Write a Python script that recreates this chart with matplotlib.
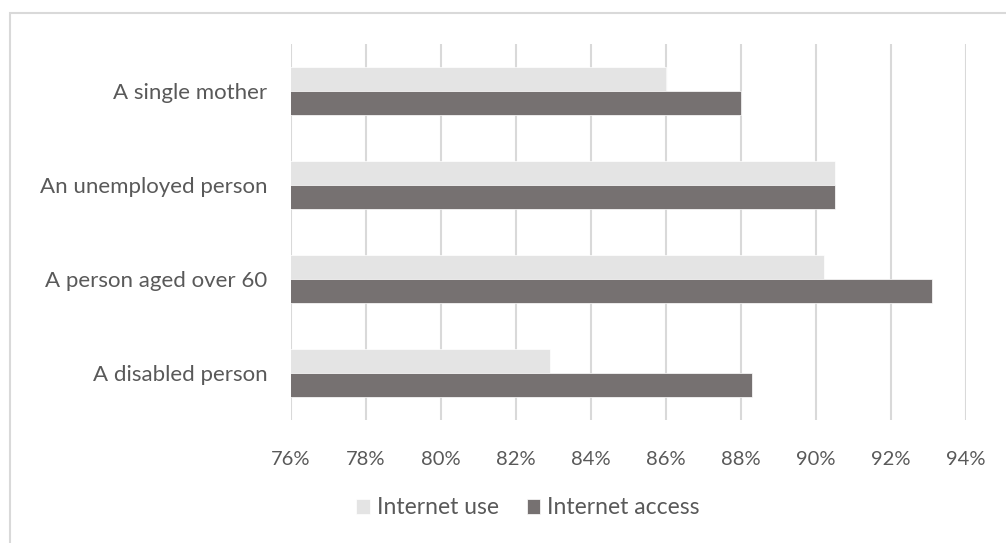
from matplotlib import pyplot as plt
from matplotlib.patches import Rectangle
from matplotlib.ticker import FuncFormatter
import numpy as np

CATEGORIES = ['A disabled person', 'A person aged over 60', 'An unemployed person', 'A single mother']
INTERNET_USE = [82.9, 90.2, 90.5, 86.0]
INTERNET_ACCESS = [88.3, 93.1, 90.5, 88.0]
X_TICKS = [76, 78, 80, 82, 84, 86, 88, 90, 92, 94]

USE_COLOR = '#E4E4E4'
ACCESS_COLOR = '#767171'
GRID_COLOR = '#D9D9D9'
TEXT_COLOR = '#595959'
BAR_H = 0.26

plt.rcParams['font.family'] = ['Lato', 'DejaVu Sans']

fig = plt.figure(figsize=(10.06, 5.43), dpi=100)
# chart border (cut off at right and bottom like the original)
fig.patches.append(Rectangle((10/1006, -0.1), 1.2, 1 - 13/543 + 0.1, transform=fig.transFigure,
                             fill=False, edgecolor=GRID_COLOR, linewidth=1.5))

ax = fig.add_axes([291/1006, 1 - 420/543, 675/1006, 376/543])
y = np.arange(len(CATEGORIES))
ax.barh(y + BAR_H/2, INTERNET_USE, height=BAR_H, left=0, color=USE_COLOR,
        edgecolor='white', linewidth=0.5, label='Internet use', zorder=3)
ax.barh(y - BAR_H/2, INTERNET_ACCESS, height=BAR_H, left=0, color=ACCESS_COLOR,
        edgecolor='white', linewidth=0.5, label='Internet access', zorder=3)

ax.set_xlim(X_TICKS[0], X_TICKS[-1])
ax.set_ylim(-0.5, len(CATEGORIES) - 0.5)
ax.set_xticks(X_TICKS)
ax.xaxis.set_major_formatter(FuncFormatter(lambda v, p: f'{v:.0f}%'))
ax.set_yticks(y)
ax.set_yticklabels(CATEGORIES)
ax.tick_params(axis='both', length=0, colors=TEXT_COLOR)
ax.tick_params(axis='x', pad=22, labelsize=14.5)
ax.tick_params(axis='y', pad=17, labelsize=16)
ax.grid(axis='x', color=GRID_COLOR, linewidth=1.5, zorder=0)
for s in ax.spines.values():
    s.set_visible(False)

fig.legend(loc='center', bbox_to_anchor=(528/1006, 1 - 508/543), ncol=2, frameon=False,
           fontsize=16.5, labelcolor=TEXT_COLOR, handlelength=0.6, handleheight=0.6,
           handletextpad=0.3, columnspacing=1.2)

fig.savefig('out.png', dpi=100)
